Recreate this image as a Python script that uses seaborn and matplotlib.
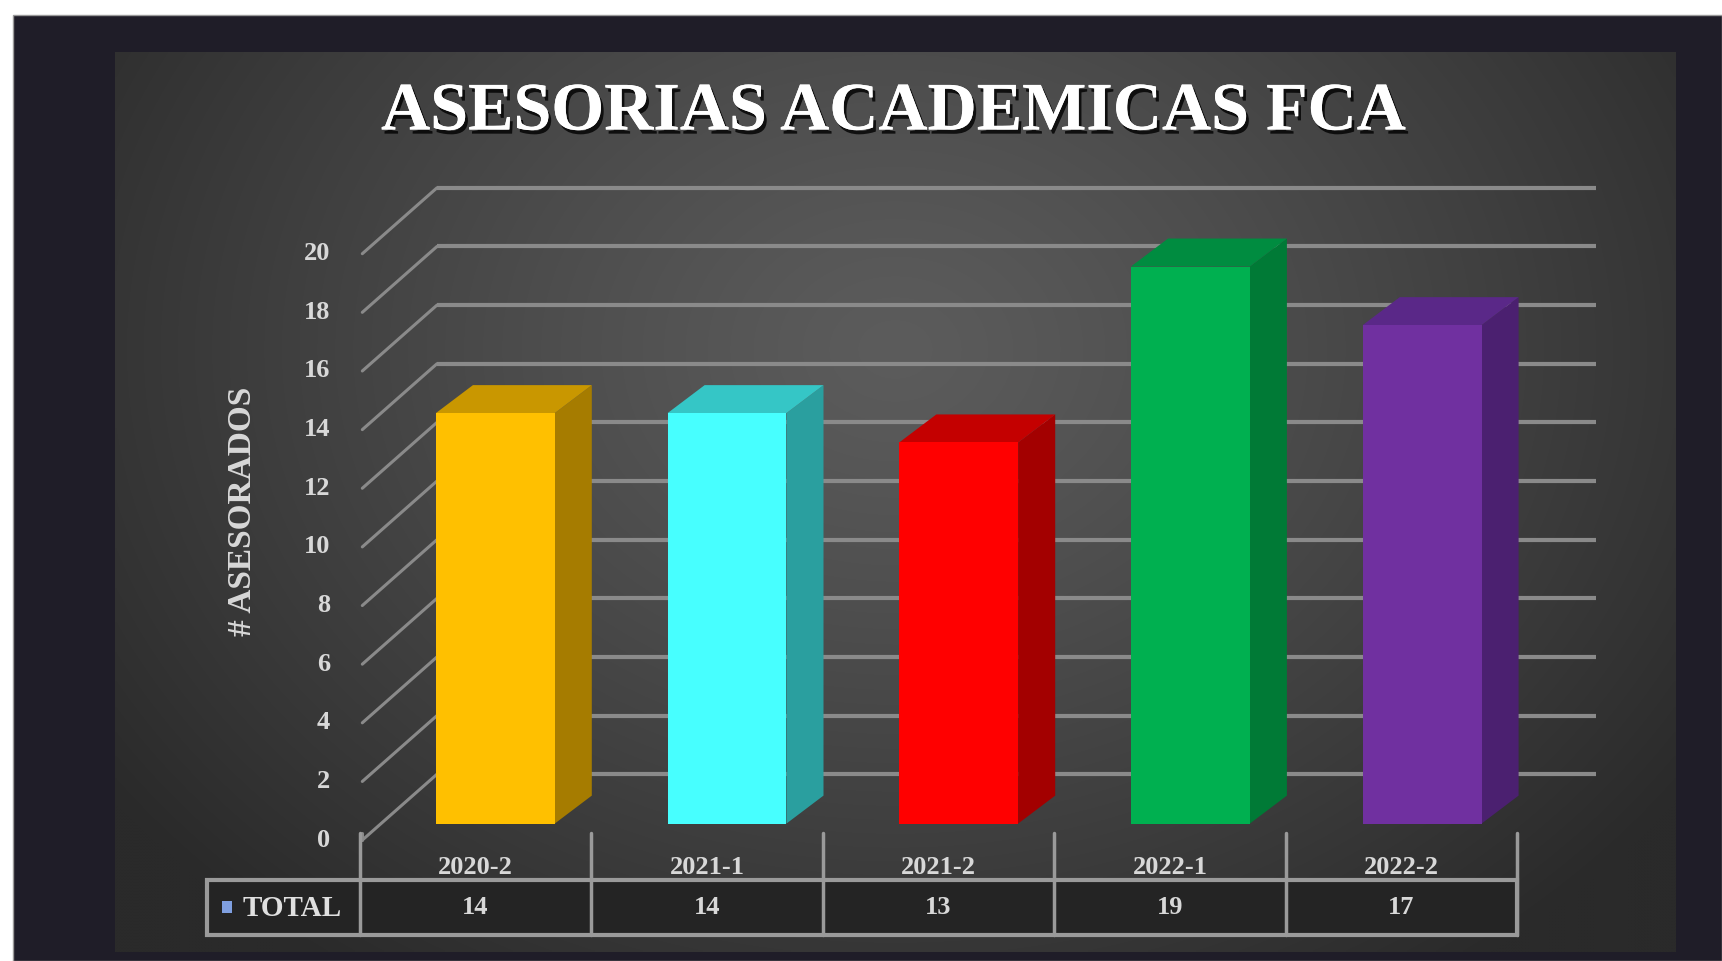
import numpy as np
import matplotlib
matplotlib.use("Agg")
import matplotlib.pyplot as plt
import seaborn as sns
from matplotlib.patches import Polygon, Rectangle
import matplotlib.patheffects as pe

# ---------------- data ----------------
categories = ["2020-2", "2021-1", "2021-2", "2022-1", "2022-2"]
values = [14, 14, 13, 19, 17]
front_colors = ["#FFC000", "#47FFFF", "#FF0000", "#00B050", "#7030A0"]
side_colors = ["#A67C00", "#2A9F9F", "#A30000", "#007A36", "#4B2070"]
top_colors = ["#C99700", "#35C6C6", "#C40000", "#008C40", "#5A2888"]
y_ticks = list(range(0, 21, 2))
series_name = "TOTAL"
title = "ASESORIAS ACADEMICAS FCA"
y_label = "# ASESORADOS"

sns.set_theme(style="white")
plt.rcParams['font.family'] = ['Liberation Serif', 'DejaVu Serif']

W, H = 1722, 961
fig = plt.figure(figsize=(W / 100, H / 100), dpi=100, facecolor='white')

def fx(px):
    return px / W

def fy(py):
    return 1 - py / H

# outer navy frame
fig.patches.append(Rectangle((fx(13), 0), 1 - fx(13), fy(15), transform=fig.transFigure,
                             facecolor='#1f1d28', edgecolor='#9a9a9a', lw=1, zorder=-10))

PL, PT, PR, PB = 115, 52, 1676, 952
ax = fig.add_axes([fx(PL), fy(PB), (PR - PL) / W, (PB - PT) / H])
ax.set_zorder(1)

# pixel <-> data mapping for the plane of the bar fronts
X0, XS, Y0, YS = 495.3, 231.7, 823.6, 29.32
def dx(px):
    return (px - X0) / XS

def dy(py):
    return (Y0 - py) / YS

xlim = (dx(PL), dx(PR))
ylim = (dy(PB), dy(PT))

# radial gradient background
ny, nx = 300, 520
yy, xx = np.mgrid[0:1:ny * 1j, 0:1:nx * 1j]
r = np.sqrt(((xx - 0.5) / 0.62) ** 2 + ((yy - 0.33) / 0.85) ** 2)
t = np.clip(r, 0, 1) ** 1.2
c_in = np.array([0x5c, 0x5c, 0x5c]) / 255
c_out = np.array([0x2a, 0x2a, 0x2a]) / 255
img = c_in[None, None, :] * (1 - t[..., None]) + c_out[None, None, :] * t[..., None]
ax.imshow(img, extent=(xlim[0], xlim[1], ylim[0], ylim[1]), origin='upper',
          aspect='auto', zorder=0, interpolation='bilinear')

# geometry of the 3D box
FRONT_X, FRONT_DY = -0.574, -0.563     # front plane (tick labels)
BACK_XL, BACK_XR, BACK_DY = -0.2516, 4.749, 1.685   # back wall
DEPTH_X, DEPTH_Y = 0.16, 0.955          # bar depth
GRID_C = '#8a8a8a'
TXT_C = '#d8d8d8'

for v in y_ticks:
    ax.plot([BACK_XL, BACK_XR], [v + BACK_DY] * 2, color=GRID_C, lw=3, zorder=1,
            solid_capstyle='butt')
    ax.plot([FRONT_X, BACK_XL], [v + FRONT_DY, v + BACK_DY], color=GRID_C, lw=2.2,
            zorder=1)
    ax.text(dx(330), v + FRONT_DY, str(v), ha='right', va='center', color=TXT_C,
            fontsize=19, fontweight='bold', zorder=5)

# front bars via seaborn
sns.barplot(x=categories, y=values, hue=categories, palette=front_colors, saturation=1,
            width=0.513, legend=False, ax=ax, zorder=3, linewidth=0)

for p, sc, tc in zip(ax.patches[:len(categories)], side_colors, top_colors):
    x0 = p.get_x()
    x1 = x0 + p.get_width()
    h = p.get_height()
    ax.add_patch(Polygon([(x1, 0), (x1, h), (x1 + DEPTH_X, h + DEPTH_Y), (x1 + DEPTH_X, DEPTH_Y)],
                         closed=True, facecolor=sc, edgecolor='none', zorder=2.9))
    ax.add_patch(Polygon([(x0, h), (x1, h), (x1 + DEPTH_X, h + DEPTH_Y), (x0 + DEPTH_X, h + DEPTH_Y)],
                         closed=True, facecolor=tc, edgecolor='none', zorder=2.9))

# data table below the chart
T_TOP, T_ROW_TOP, T_ROW_BOT = dy(833), dy(880), dy(935)
T_HEAD_Y, T_VAL_Y = dy(867), dy(908)
T_X0, T_STEP = -0.585, 0.999
T_LEFT = dx(207)
TBL_C = '#9a9a9a'
n = len(categories)
ax.add_patch(Rectangle((T_LEFT, T_ROW_BOT), T_X0 + n * T_STEP - T_LEFT, T_ROW_TOP - T_ROW_BOT,
                       facecolor='#242424', edgecolor=TBL_C, lw=3, zorder=2))
ax.plot([FRONT_X, FRONT_X], [FRONT_DY, T_TOP], color=GRID_C, lw=2.2, zorder=2)
for k in range(n + 1):
    xk = T_X0 + k * T_STEP
    ax.plot([xk, xk], [T_TOP, T_ROW_BOT], color=TBL_C, lw=2.5, zorder=2.5)
for k, (cat, val) in enumerate(zip(categories, values)):
    xc = T_X0 + (k + 0.5) * T_STEP
    ax.text(xc, T_HEAD_Y, cat, ha='center', va='center', color=TXT_C, fontsize=19,
            fontweight='bold', zorder=5)
    ax.text(xc, T_VAL_Y, str(val), ha='center', va='center', color=TXT_C, fontsize=19,
            fontweight='bold', zorder=5)
ax.add_patch(Rectangle((dx(222), dy(913)), dx(232) - dx(222), dy(901) - dy(913),
                       facecolor='#7f9fe0', edgecolor='none', zorder=5))
ax.text(dx(243), T_VAL_Y, series_name, ha='left', va='center', color='#e0e0e0',
        fontsize=21, fontweight='bold', zorder=5)

# axis label
ax.text(dx(242), dy(511), y_label, rotation=90, ha='center', va='center', color=TXT_C,
        fontsize=24, fontweight='bold', zorder=5)

ax.set_xlim(*xlim)
ax.set_ylim(*ylim)
ax.axis('off')

# title
fig.text(fx(893), fy(113), title, ha='center', va='center', color='white', fontsize=49,
         fontweight='bold', zorder=10,
         path_effects=[pe.withSimplePatchShadow(offset=(2, -3), shadow_rgbFace='black', alpha=0.8),
                       pe.Normal()])

fig.savefig('out.png', dpi=100, facecolor=fig.get_facecolor())
